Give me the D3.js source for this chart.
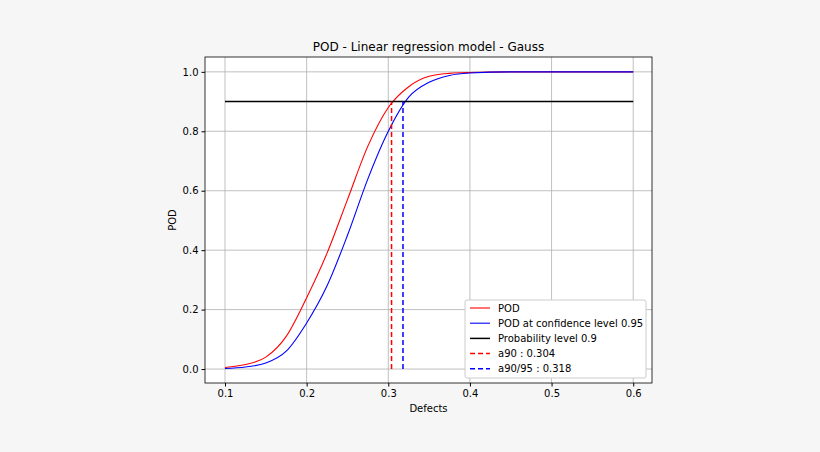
<!DOCTYPE html>
<html><head><meta charset="utf-8">
<script src="https://cdn.jsdelivr.net/npm/d3@7"></script>
<style>body{margin:0;background:#f6f6f6;font-family:"DejaVu Sans",sans-serif;}</style>
</head><body><svg id="c" width="820" height="452"></svg>
<script>
const xs = [0.1,0.125,0.15,0.175,0.2,0.225,0.25,0.275,0.3,0.325,0.35,0.375,0.4,0.45,0.5,0.6];
const pod = [0.005,0.015,0.04,0.11,0.24,0.39,0.57,0.75,0.88,0.95,0.985,0.995,0.998,1,1,1];
const podConf = [0.002,0.007,0.02,0.06,0.155,0.28,0.45,0.64,0.8,0.915,0.965,0.988,0.996,1,1,1];
const probLevel = 0.9, a90 = 0.304, a9095 = 0.318;
const xTicks = [0.1,0.2,0.3,0.4,0.5,0.6], yTicks = [0,0.2,0.4,0.6,0.8,1.0];
const legendLabels = ["POD","POD at confidence level 0.95","Probability level 0.9","a90 : 0.304","a90/95 : 0.318"];

const svg = d3.select("#c");
const L=205,R=652,T=57,B=383;
const x = d3.scaleLinear().domain([0.0755,0.623]).range([L,R]);
const y = d3.scaleLinear().domain([-0.047,1.05]).range([B,T]);
svg.append("rect").attr("x",L).attr("y",T).attr("width",R-L).attr("height",B-T).attr("fill","#fff");
const g = svg.append("g");
xTicks.forEach(t=>g.append("line").attr("x1",x(t)).attr("x2",x(t)).attr("y1",T).attr("y2",B).attr("stroke","#b0b0b0").attr("stroke-width",0.8));
yTicks.forEach(t=>g.append("line").attr("x1",L).attr("x2",R).attr("y1",y(t)).attr("y2",y(t)).attr("stroke","#b0b0b0").attr("stroke-width",0.8));
const line = d3.line().x((d,i)=>x(xs[i])).y(d=>y(d)).curve(d3.curveMonotoneX);
svg.append("path").attr("d",line(pod)).attr("fill","none").attr("stroke","#e41a1c").attr("stroke-width",1.1).attr("stroke","red");
svg.append("path").attr("d",line(podConf)).attr("fill","none").attr("stroke","blue").attr("stroke-width",1.1);
svg.append("line").attr("x1",x(0.1)).attr("x2",x(0.6)).attr("y1",y(probLevel)).attr("y2",y(probLevel)).attr("stroke","black").attr("stroke-width",1.5);
svg.append("line").attr("x1",x(a90)).attr("x2",x(a90)).attr("y1",y(0)).attr("y2",y(probLevel)).attr("stroke","red").attr("stroke-width",1.5).attr("stroke-dasharray","5,3");
svg.append("line").attr("x1",x(a9095)).attr("x2",x(a9095)).attr("y1",y(0)).attr("y2",y(probLevel)).attr("stroke","blue").attr("stroke-width",1.5).attr("stroke-dasharray","5,3");
svg.append("rect").attr("x",L).attr("y",T).attr("width",R-L).attr("height",B-T).attr("fill","none").attr("stroke","#000").attr("stroke-width",0.8);
const xa = svg.append("g").attr("transform",`translate(0,${B})`).call(d3.axisBottom(x).tickValues(xTicks).tickFormat(d3.format(".1f")).tickSize(3.5).tickSizeOuter(0));
const ya = svg.append("g").attr("transform",`translate(${L},0)`).call(d3.axisLeft(y).tickValues(yTicks).tickFormat(d3.format(".1f")).tickSize(3.5).tickSizeOuter(0));
[xa,ya].forEach(a=>{a.select(".domain").remove();a.selectAll("text").attr("font-size",10).attr("font-family","DejaVu Sans").attr("fill","#000");});
svg.append("text").attr("x",(L+R)/2).attr("y",51).attr("text-anchor","middle").attr("font-size",12).text("POD - Linear regression model - Gauss");
svg.append("text").attr("x",(L+R)/2).attr("y",412).attr("text-anchor","middle").attr("font-size",10).text("Defects");
svg.append("text").attr("transform",`translate(176,${(T+B)/2}) rotate(-90)`).attr("text-anchor","middle").attr("font-size",10).text("POD");
const lg = svg.append("g").attr("transform","translate(465,300)");
lg.append("rect").attr("width",181).attr("height",78).attr("fill","#fff").attr("stroke","#ccc").attr("rx",2);
const cols=["red","blue","black","red","blue"], dash=[null,null,null,"5,3","5,3"], sw=[1.1,1.1,1.5,1.5,1.5];
legendLabels.forEach((l,i)=>{
  const yy=8+i*15.2;
  lg.append("line").attr("x1",5).attr("x2",25).attr("y1",yy).attr("y2",yy).attr("stroke",cols[i]).attr("stroke-width",sw[i]).attr("stroke-dasharray",dash[i]);
  lg.append("text").attr("x",33).attr("y",yy+3.5).attr("font-size",10).text(l);
});
</script></body></html>
